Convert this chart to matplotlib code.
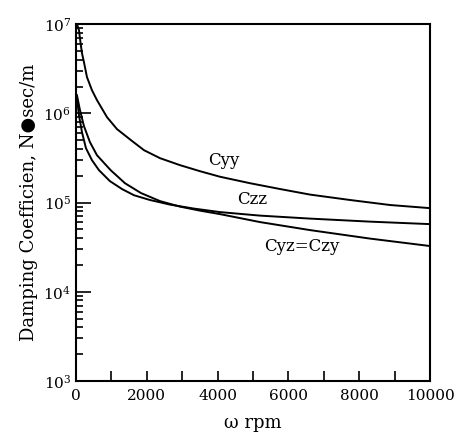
import numpy as np
import matplotlib
matplotlib.use("Agg")
import matplotlib.pyplot as plt
from matplotlib.ticker import MultipleLocator, LogLocator, LogFormatterMathtext, NullFormatter

plt.rcParams['font.family'] = ['DejaVu Serif', 'DejaVu Sans']
plt.rcParams['mathtext.fontset'] = 'dejavuserif'

# ----- datos -----
w_yy = [30, 85, 127, 170, 226, 311, 452, 593, 876, 1158, 1554, 1921, 2373,
        2938, 3503, 4068, 4916, 5763, 6610, 7740, 8870, 10000]
c_yy = [1.0e7, 8.57e6, 6.28e6, 4.73e6, 3.75e6, 2.55e6, 1.82e6, 1.41e6, 9.08e5,
        6.67e5, 5.01e5, 3.87e5, 3.15e5, 2.63e5, 2.25e5, 1.95e5, 1.65e5,
        1.42e5, 1.23e5, 1.07e5, 9.4e4, 8.67e4]

w_zz = [28, 85, 170, 282, 452, 650, 960, 1300, 1638, 2090, 2656, 3333, 4068,
        5198, 6610, 8306, 10000]
c_zz = [1.48e6, 9.56e5, 6.16e5, 4.08e5, 2.99e5, 2.31e5, 1.74e5, 1.42e5, 1.21e5,
        1.07e5, 9.5e4, 8.57e4, 7.83e4, 7.15e4, 6.62e4, 6.12e4, 5.74e4]

w_yz = [28, 113, 226, 395, 593, 980, 1384, 1836, 2373, 2938, 3503, 4068, 5198,
        6610, 8306, 10000]
c_yz = [1.6e6, 1.09e6, 7.2e5, 4.76e5, 3.4e5, 2.31e5, 1.65e5, 1.28e5, 1.04e5,
        9.02e4, 8.13e4, 7.43e4, 6.05e4, 4.92e4, 3.95e4, 3.26e4]

labels = ['Cyy', 'Czz', 'Cyz=Czy']
label_w = [4180, 4970, 6380]
label_c = [3.0e5, 1.09e5, 3.25e4]


fig = plt.figure(figsize=(4.66, 4.40), dpi=100)
ax = fig.add_axes([0.163, 0.134, 0.760, 0.811])

for w, c in [(w_yy, c_yy), (w_zz, c_zz), (w_yz, c_yz)]:
    ax.plot(w, c, color='k', lw=1.4, solid_joinstyle='round')

for txt, x, y in zip(labels, label_w, label_c):
    ax.text(x, y, txt, ha='center', va='center', fontsize=12)

ax.set_yscale('log')
ax.set_xlim(0, 10000)
ax.set_ylim(1e3, 1e7)

ax.xaxis.set_major_locator(MultipleLocator(2000))
ax.xaxis.set_minor_locator(MultipleLocator(1000))
ax.yaxis.set_major_locator(LogLocator(base=10, numticks=10))
ax.yaxis.set_minor_locator(LogLocator(base=10, subs=np.arange(2, 10), numticks=10))
ax.yaxis.set_major_formatter(LogFormatterMathtext())
ax.yaxis.set_minor_formatter(NullFormatter())

ax.tick_params(axis='x', which='both', direction='in', length=7.5, width=1.2,
               top=False, labelsize=11, pad=6)
ax.tick_params(axis='y', which='major', direction='in', length=10.5, width=1.2,
               right=False, labelsize=11)
ax.tick_params(axis='y', which='minor', direction='in', length=5, width=1.2,
               right=False)

for sp in ax.spines.values():
    sp.set_linewidth(1.5)

ax.set_xlabel('ω rpm', fontsize=13, labelpad=8)
ax.set_ylabel('Damping Coefficien, N●sec/m', fontsize=13, labelpad=4)

fig.savefig('out.png', dpi=100)
